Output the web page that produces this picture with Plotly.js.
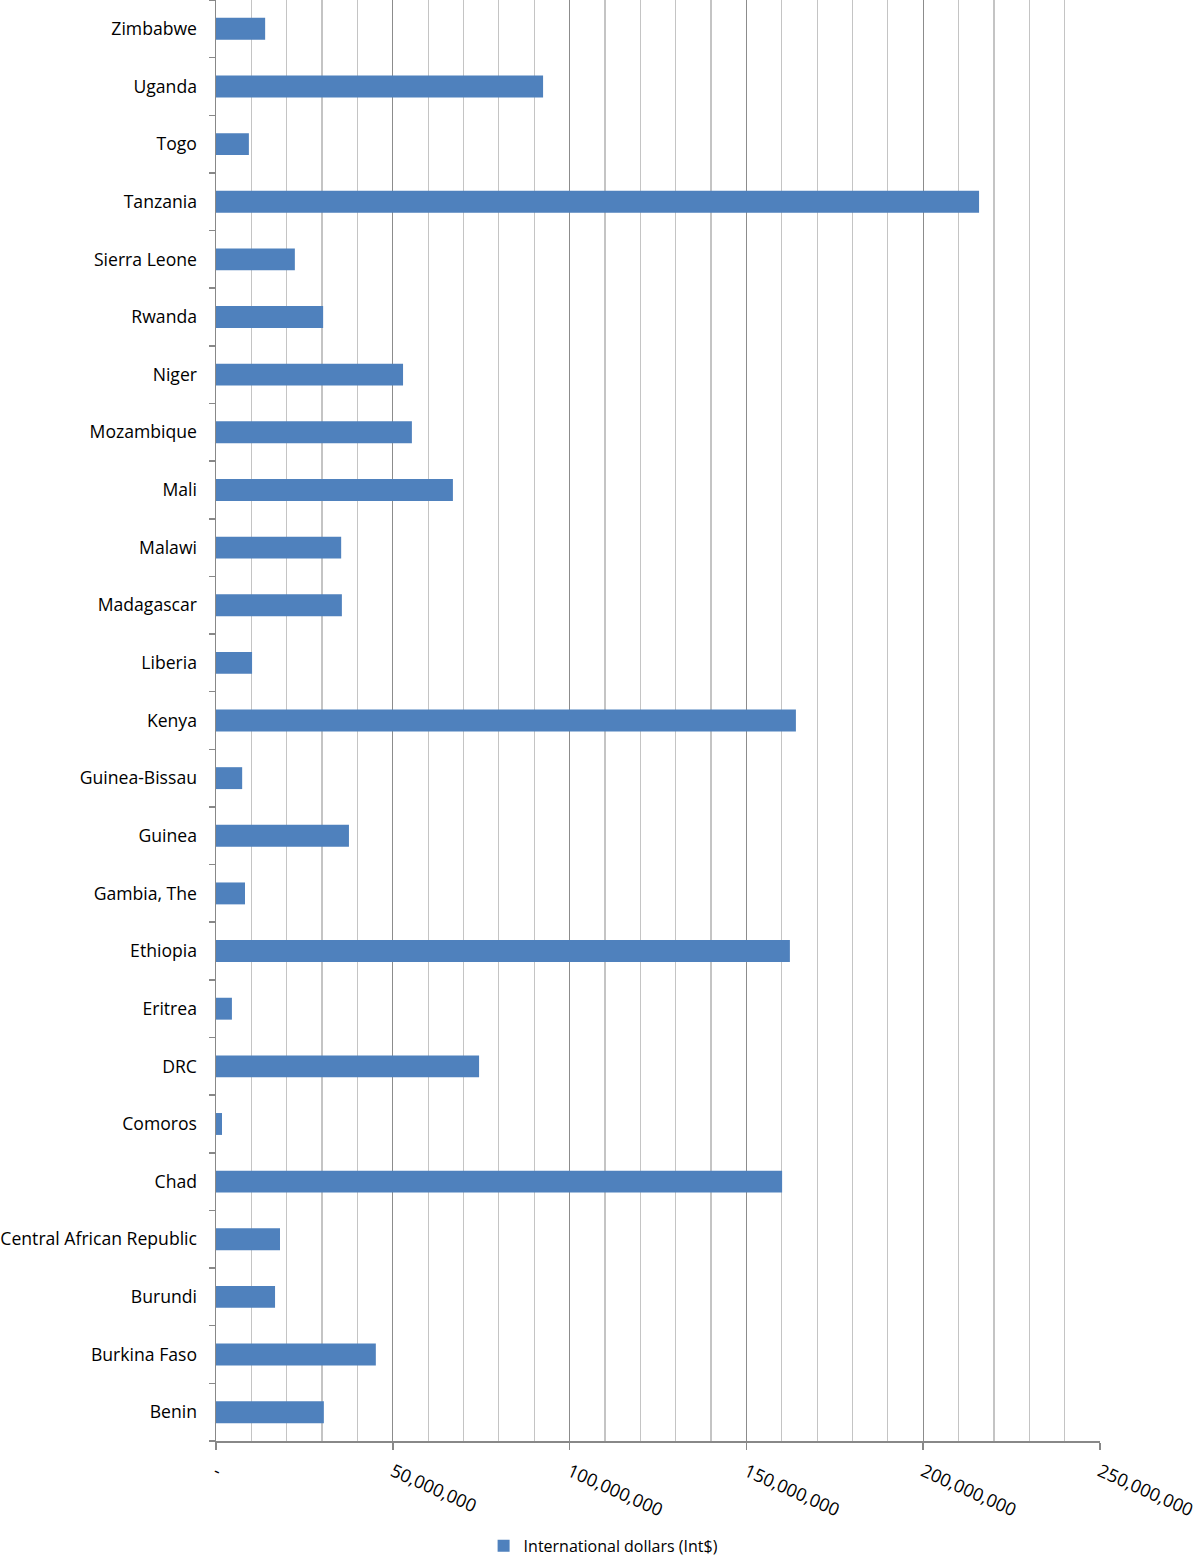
<!DOCTYPE html>
<html>
<head>
<meta charset="utf-8">
<script src="https://cdn.plot.ly/plotly-3.0.1.min.js"></script>
<style>html,body{margin:0;padding:0;background:#fff;}#chart{width:1200px;height:1560px;}</style>
</head>
<body>
<div id="chart"></div>
<script>
const countries = ["Benin","Burkina Faso","Burundi","Central African Republic","Chad","Comoros","DRC","Eritrea","Ethiopia","Gambia, The","Guinea","Guinea-Bissau","Kenya","Liberia","Madagascar","Malawi","Mali","Mozambique","Niger","Rwanda","Sierra Leone","Tanzania","Togo","Uganda","Zimbabwe"];
const intDollars = [30500000,45200000,16700000,18100000,160100000,1700000,74400000,4500000,162300000,8200000,37600000,7400000,164000000,10200000,35600000,35400000,67000000,55400000,52900000,30300000,22300000,215800000,9300000,92500000,13900000];
const seriesName = "International dollars (Int$)";
const xTickVals = [0,50000000,100000000,150000000,200000000,250000000];
const xTickText = ["-","50,000,000","100,000,000","150,000,000","200,000,000","250,000,000"];

const font = "'Open Sans', Lato, sans-serif";
Plotly.newPlot("chart", [{
  type: "bar",
  orientation: "h",
  y: countries,
  x: intDollars,
  name: seriesName,
  marker: {color: "#4F81BD"},
  showlegend: true
}], {
  width: 1200, height: 1560,
  margin: {l: 216, r: 100, t: 0, b: 119, pad: 0},
  paper_bgcolor: "#fff", plot_bgcolor: "#fff",
  font: {family: font, size: 17, color: "#000"},
  bargap: 0.62,
  xaxis: {
    range: [0, 250000000],
    tickmode: "array", tickvals: xTickVals, ticktext: xTickText,
    tickangle: 24,
    ticks: "outside", ticklen: 7, tickcolor: "#888", tickwidth: 1.5,
    showline: true, linecolor: "#888", linewidth: 1.5,
    showgrid: true, gridcolor: "#8c8c8c", gridwidth: 1.2,
    zeroline: false,
    ticklabelstandoff: 5,
    tickfont: {family: font, size: 18, color: "#000"},
    minor: {tickmode: "linear", tick0: 0, dtick: 10000000, showgrid: true, gridcolor: "#c4c4c4", gridwidth: 1.2, ticks: ""},
    automargin: false,
    fixedrange: true
  },
  yaxis: {
    type: "category",
    tickson: "boundaries",
    ticks: "outside", ticklen: 6, tickcolor: "#888", tickwidth: 1.5,
    showline: true, linecolor: "#888", linewidth: 1.5,
    showgrid: false, zeroline: false,
    ticklabelstandoff: 14,
    tickfont: {family: font, size: 17.6, color: "#000"},
    automargin: false
  },
  legend: {
    orientation: "h", xref: "container", yref: "container",
    x: 0.503, xanchor: "center", y: 0.009, yanchor: "middle",
    font: {family: font, size: 16, color: "#000"},
    itemwidth: 30
  }
}, {staticPlot: true});
</script>
</body>
</html>
